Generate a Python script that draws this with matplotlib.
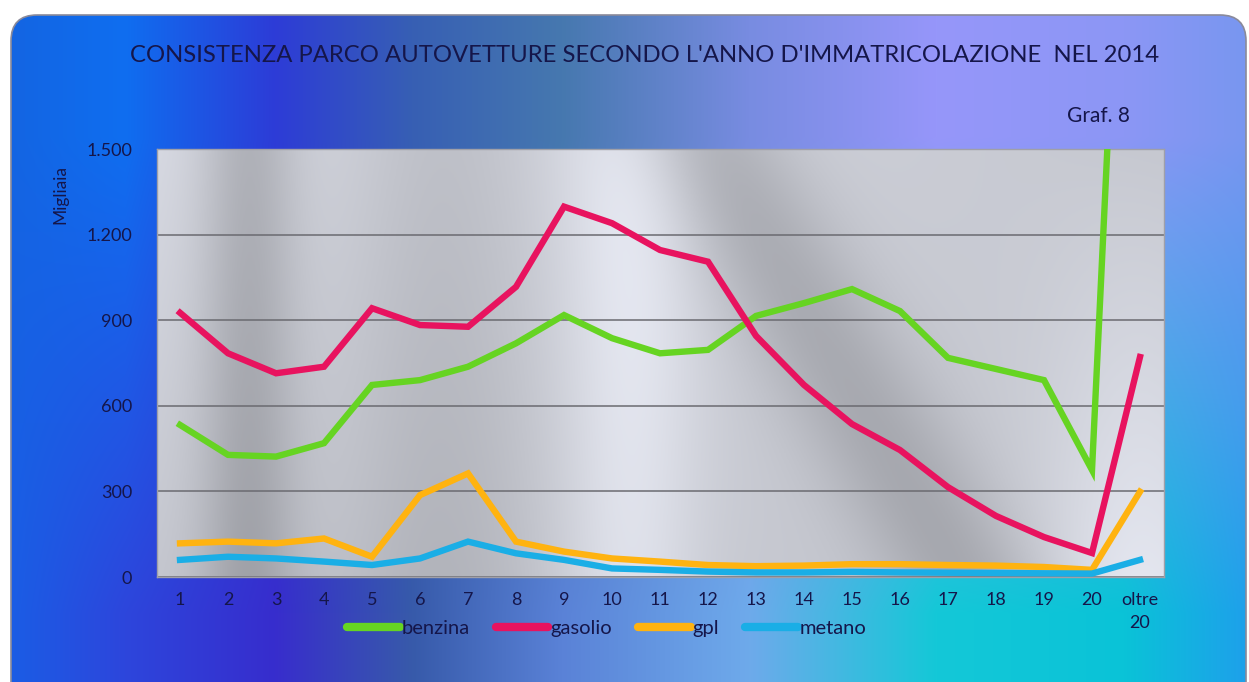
import numpy as np
import matplotlib
matplotlib.use("Agg")
import matplotlib.pyplot as plt
from matplotlib.patches import FancyBboxPatch
from matplotlib.ticker import FuncFormatter, MultipleLocator

plt.rcParams["font.family"] = ["Lato", "DejaVu Sans"]

# Anno d'immatricolazione (anzianita' in anni)
categories = [str(i) for i in range(1, 21)] + ["oltre\n20"]

# Migliaia di autovetture per alimentazione
benzina = [533, 428, 422, 469, 673, 690, 737, 819, 918, 837, 784, 796,
           915, 960, 1009, 932, 768, 729, 690, 375, 3900]
gasolio = [926, 784, 714, 737, 942, 883, 877, 1017, 1298, 1240, 1146, 1105,
           845, 673, 536, 445, 315, 214, 140, 84, 771]
gpl = [118, 124, 118, 135, 71, 287, 363, 124, 89, 65, 54, 42,
       38, 40, 45, 45, 42, 40, 35, 25, 299]
metano = [60, 71, 65, 54, 42, 65, 124, 83, 60, 30, 25, 19,
          16, 16, 18, 16, 15, 14, 13, 12, 60]

series = [("benzina", benzina, "#66d422"),
          ("gasolio", gasolio, "#e8135f"),
          ("gpl", gpl, "#ffb310"),
          ("metano", metano, "#1aaee6")]

W, H = 1249, 682
text_col = "#15164a"

fig = plt.figure(figsize=(W / 100, H / 100), dpi=100)
fig.patch.set_facecolor("white")

# background panel with a blue/violet/cyan gradient
bg = fig.add_axes([0, 0, 1, 1])
bg.set_xlim(0, W)
bg.set_ylim(H, 0)
bg.axis("off")

xs = np.linspace(0, 1, W)
anchors = [0.0, 0.1, 0.22, 0.33, 0.45, 0.6, 0.75, 0.9, 1.0]
top_cols = np.array([[20, 100, 225], [15, 110, 240], [45, 60, 215], [55, 95, 180],
                     [70, 120, 175], [120, 140, 225], [150, 150, 250],
                     [140, 150, 245], [120, 150, 240]]) / 255
bot_cols = np.array([[25, 95, 230], [45, 70, 220], [55, 45, 205], [55, 90, 170],
                     [90, 130, 215], [110, 170, 235], [20, 200, 215],
                     [10, 195, 215], [30, 160, 235]]) / 255
top_row = np.stack([np.interp(xs, anchors, top_cols[:, c]) for c in range(3)], axis=1)
bot_row = np.stack([np.interp(xs, anchors, bot_cols[:, c]) for c in range(3)], axis=1)
ys = np.linspace(0, 1, H)[:, None, None]
wy = np.clip((ys - 0.2) / 0.7, 0, 1)
grad = top_row[None, :, :] * (1 - wy) + bot_row[None, :, :] * wy

frame = FancyBboxPatch((11, 15), W - 14, H + 30,
                       boxstyle="round,pad=0,rounding_size=26",
                       facecolor="none", edgecolor="#8a8a9a", linewidth=1.2,
                       zorder=3)
bg.add_patch(frame)
img = bg.imshow(grad, extent=(0, W, H, 0), aspect="auto", zorder=1)
img.set_clip_path(frame)

# plot area
ax = fig.add_axes([157 / W, 1 - 577 / H, (1164 - 157) / W, (577 - 149) / H])
xi = np.arange(len(categories))
ax.set_xlim(-0.48, 20.5)
ax.set_ylim(0, 1500)

# brushed metal look for the plot area
px = np.linspace(0, 1, 400)
py = np.linspace(0, 1, 200)[:, None]
shade = (0.80
         - 0.15 * np.exp(-((px - 0.09) / 0.05) ** 2)
         - 0.08 * np.exp(-((px - 0.28) / 0.10) ** 2)
         + 0.10 * np.exp(-((px - 0.47) / 0.07) ** 2)
         - 0.13 * np.exp(-((px - 0.80 + 0.25 * (1 - py)) / 0.08) ** 2)
         + 0.12 * np.exp(-((px - 0.98) / 0.10) ** 2) * py
         + 0.07 * (1 - px) * (1 - py))
shade = np.clip(shade, 0.45, 0.95)
metal = np.stack([shade * 0.97, shade * 0.98, shade * 1.02], axis=2).clip(0, 1)
ax.imshow(metal, extent=(-0.48, 20.5, 0, 1500), aspect="auto", zorder=0)

ax.yaxis.set_major_locator(MultipleLocator(300))
ax.yaxis.set_major_formatter(FuncFormatter(lambda v, p: f"{v:,.0f}".replace(",", ".")))
ax.grid(axis="y", color="#6a6a70", linewidth=1.1, zorder=1)
ax.set_axisbelow(True)
for s in ax.spines.values():
    s.set_color("#a0a0a8")
    s.set_linewidth(1.0)
ax.tick_params(length=0, labelsize=13, colors=text_col)
ax.tick_params(axis="y", pad=18)
ax.set_xticks(xi)
ax.set_xticklabels(categories, linespacing=1.5, va="top")
ax.tick_params(axis="x", pad=11)

for name, vals, col in series:
    ax.plot(xi, vals, color=col, linewidth=4.6, solid_joinstyle="miter",
            label=name, zorder=3)

fig.text(60 / W, 1 - 195 / H, "Migliaia", rotation=90, ha="center", va="center",
         fontsize=12.5, color=text_col)

fig.text(645 / W, 1 - 55 / H,
         "CONSISTENZA PARCO AUTOVETTURE SECONDO L'ANNO D'IMMATRICOLAZIONE  NEL 2014",
         ha="center", va="center", fontsize=17.2, color=text_col)
fig.text(1098 / W, 1 - 116 / H, "Graf. 8", ha="center", va="center",
         fontsize=15, color=text_col)

leg = fig.legend(loc="center", bbox_to_anchor=(607 / W, 1 - 628 / H), ncol=4,
                 frameon=False, fontsize=14.5, handlelength=2.6, handletextpad=0.1,
                 columnspacing=1.3, labelcolor=text_col)
for h in leg.get_lines():
    h.set_linewidth(6)
    h.set_solid_capstyle("round")

fig.savefig("out.png", dpi=100)
